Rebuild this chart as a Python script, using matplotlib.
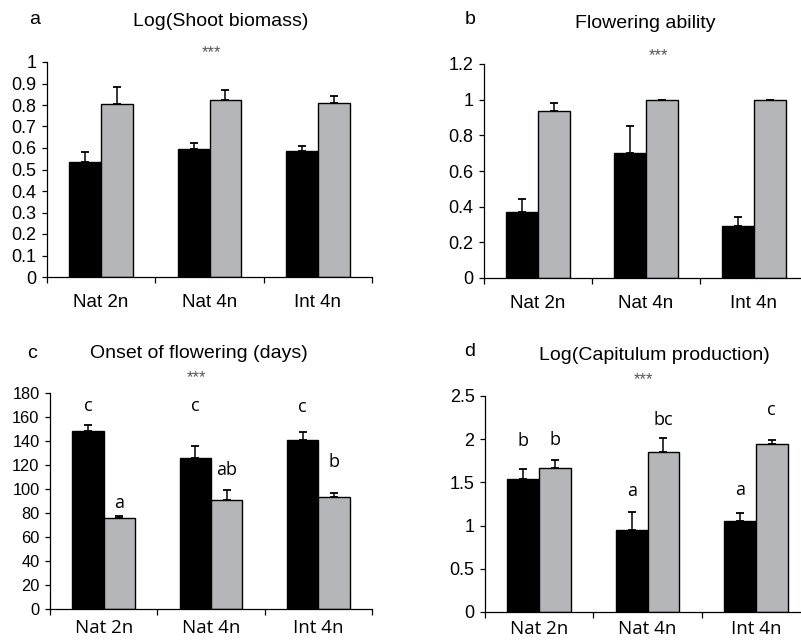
import matplotlib
matplotlib.use("Agg")
import matplotlib.pyplot as plt
import numpy as np

W, H = 801, 640

categories = ["Nat 2n", "Nat 4n", "Int 4n"]

# Panel a: Log(Shoot biomass)
a_black = [0.535, 0.597, 0.587]
a_black_err = [0.046, 0.024, 0.020]
a_gray = [0.805, 0.821, 0.808]
a_gray_err = [0.078, 0.051, 0.032]

# Panel b: Flowering ability
b_black = [0.372, 0.699, 0.290]
b_black_err = [0.072, 0.156, 0.053]
b_gray = [0.936, 1.0, 1.0]
b_gray_err = [0.045, 0.0, 0.0]

# Panel c: Onset of flowering (days)
c_black = [148.6, 125.9, 140.6]
c_black_err = [4.8, 9.8, 7.2]
c_gray = [75.8, 90.8, 93.5]
c_gray_err = [1.9, 8.3, 3.0]
c_black_letters = ["c", "c", "c"]
c_black_letter_y = [169, 169, 168]
c_gray_letters = ["a", "ab", "b"]
c_gray_letter_y = [88.5, 115.6, 122.6]

# Panel d: Log(Capitulum production)
d_black = [1.543, 0.953, 1.049]
d_black_err = [0.108, 0.204, 0.101]
d_gray = [1.670, 1.852, 1.940]
d_gray_err = [0.089, 0.158, 0.050]
d_black_letters = ["b", "a", "a"]
d_black_letter_y = [1.975, 1.397, 1.408]
d_gray_letters = ["b", "bc", "c"]
d_gray_letter_y = [1.987, 2.218, 2.334]

GRAY = "#b5b6ba"
ARIAL = ["Liberation Sans", "DejaVu Sans"]
OPEN = ["Open Sans", "DejaVu Sans"]

fig = plt.figure(figsize=(W / 100, H / 100), dpi=100)


def px_axes(left, right, top, bottom):
    return fig.add_axes([left / W, 1 - bottom / H, (right - left) / W, (bottom - top) / H])


def panel(ax, black, black_err, gray, gray_err, ylim, yticks, yticklabels, xfont,
          ysize=13, xpad=12):
    x = np.arange(len(categories)) + 0.5
    bw = 0.293
    ax.bar(x - bw / 2, black, width=bw, color="black", edgecolor="black", linewidth=1.0, zorder=2)
    ax.bar(x + bw / 2, gray, width=bw, color=GRAY, edgecolor="black", linewidth=1.0, zorder=2)
    ax.errorbar(x - bw / 2, black, yerr=[np.zeros(3), black_err], fmt="none",
                ecolor="black", elinewidth=1.1, capsize=3, capthick=1.3, zorder=3)
    ax.errorbar(x + bw / 2, gray, yerr=[np.zeros(3), gray_err], fmt="none",
                ecolor="black", elinewidth=1.1, capsize=3, capthick=1.3, zorder=3)
    ax.set_xlim(0, 3)
    ax.set_ylim(*ylim)
    ax.set_yticks(yticks)
    ax.set_yticklabels(yticklabels, fontfamily=ARIAL, fontsize=ysize)
    ax.set_xticks([0, 1, 2, 3])
    ax.set_xticklabels([])
    ax.set_xticks(x, minor=True)
    ax.set_xticklabels(categories, minor=True, fontfamily=xfont, fontsize=13.5)
    ax.tick_params(axis="x", which="major", direction="out", length=4, width=0.9)
    ax.tick_params(axis="x", which="minor", length=0, pad=xpad)
    ax.tick_params(axis="y", direction="out", length=3.5, width=0.9, pad=4)
    for s in ["top", "right"]:
        ax.spines[s].set_visible(False)
    for s in ["left", "bottom"]:
        ax.spines[s].set_linewidth(0.9)
    return x, bw


def ftext(px, py, s, size, family=ARIAL, color="black"):
    fig.text(px / W, 1 - py / H, s, fontsize=size, fontfamily=family, color=color,
             ha="center", va="center")


# Panel a
ax_a = px_axes(47, 372, 62, 277)
panel(ax_a, a_black, a_black_err, a_gray, a_gray_err, (0, 1),
      np.arange(0, 1.01, 0.1), ["0", "0.1", "0.2", "0.3", "0.4", "0.5", "0.6", "0.7", "0.8", "0.9", "1"], ARIAL)
ftext(35, 20, "a", 14)
ftext(221, 22, "Log(Shoot biomass)", 14)
ftext(211, 53, "***", 12, color="#555555")

# Panel b
ax_b = px_axes(484, 808, 64, 278)
panel(ax_b, b_black, b_black_err, b_gray, b_gray_err, (0, 1.2),
      [0, 0.2, 0.4, 0.6, 0.8, 1.0, 1.2], ["0", "0.2", "0.4", "0.6", "0.8", "1", "1.2"], ARIAL)
ftext(470, 20, "b", 14)
ftext(645, 23, "Flowering ability", 14)
ftext(658, 56, "***", 12, color="#555555")

# Panel c
ax_c = px_axes(50, 372, 393, 609)
xc, bwc = panel(ax_c, c_black, c_black_err, c_gray, c_gray_err, (0, 180),
                np.arange(0, 181, 20), [str(v) for v in range(0, 181, 20)], OPEN,
                ysize=11.8, xpad=7)
for i in range(3):
    ax_c.text(xc[i] - bwc / 2, c_black_letter_y[i], c_black_letters[i], ha="center", va="center",
              fontfamily=OPEN, fontsize=13)
    ax_c.text(xc[i] + bwc / 2, c_gray_letter_y[i], c_gray_letters[i], ha="center", va="center",
              fontfamily=OPEN, fontsize=13)
ftext(32, 353, "c", 14)
ftext(199, 353, "Onset of flowering (days)", 14)
ftext(196, 378, "***", 12, color="#555555")

# Panel d
ax_d = px_axes(485, 810, 396, 612)
xd, bwd = panel(ax_d, d_black, d_black_err, d_gray, d_gray_err, (0, 2.5),
                [0, 0.5, 1, 1.5, 2, 2.5], ["0", "0.5", "1", "1.5", "2", "2.5"], OPEN,
                xpad=6)
for i in range(3):
    ax_d.text(xd[i] - bwd / 2, d_black_letter_y[i], d_black_letters[i], ha="center", va="center",
              fontfamily=OPEN, fontsize=13)
    ax_d.text(xd[i] + bwd / 2, d_gray_letter_y[i], d_gray_letters[i], ha="center", va="center",
              fontfamily=OPEN, fontsize=13)
ftext(470, 352, "d", 14)
ftext(654, 355, "Log(Capitulum production)", 14)
ftext(643, 380, "***", 12, color="#555555")

fig.savefig("out.png", dpi=100)
